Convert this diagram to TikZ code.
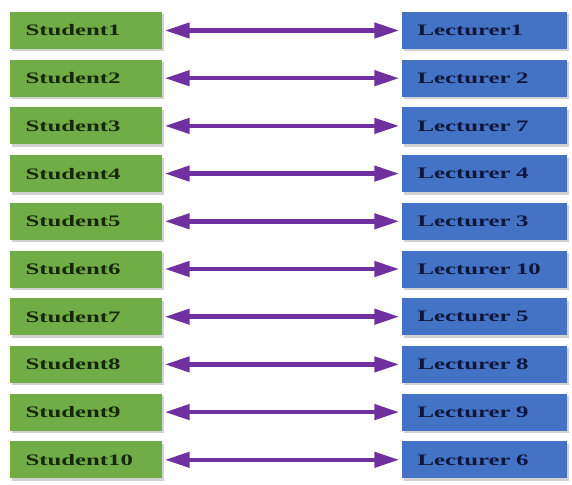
\documentclass[tikz,border=0pt]{standalone}
\usepackage{fontspec}
\setmainfont{Liberation Serif}[FakeStretch=1.55]
\usepackage{xcolor}
\usetikzlibrary{arrows.meta, positioning, calc, shadows}

\definecolor{stugreen}{RGB}{112,173,71}
\definecolor{lecblue}{RGB}{68,114,196}
\definecolor{linkpurple}{RGB}{112,48,160}
\definecolor{stutext}{RGB}{22,40,10}
\definecolor{lectext}{RGB}{14,22,60}

\begin{document}
\begin{tikzpicture}[x=1pt, y=-1pt,
    box/.style={rectangle, minimum height=37pt, inner xsep=16pt, inner ysep=0pt,
        align=left, font=\fontsize{16}{18}\selectfont\bfseries,
        drop shadow={shadow xshift=2.5pt, shadow yshift=-2.5pt, fill=gray!35, opacity=1}},
    stubox/.style={box, fill=stugreen, text=stutext, text width=120pt},
    lecbox/.style={box, fill=lecblue, text=lectext, text width=133pt},
    link/.style={draw=linkpurple, line width=4.5pt,
        {Triangle[length=25pt, width=15pt]}-{Triangle[length=25pt, width=15pt]}}]
\useasboundingbox (0,0) rectangle (572,484);

% Students and lecturers
\foreach \i/\lec [evaluate=\i as \y using 30.5+47.7*(\i-1)] in
    {1/Lecturer1, 2/Lecturer 2, 3/Lecturer 7, 4/Lecturer 4, 5/Lecturer 3,
     6/Lecturer 10, 7/Lecturer 5, 8/Lecturer 8, 9/Lecturer 9, 10/Lecturer 6}
{
    \node[stubox] (s\i) at (85.5,\y) {Student\i};
    \node[lecbox] (l\i) at (484,\y) {\lec};
    \draw[link] ($(s\i.east)+(3,0)$) -- ($(l\i.west)+(-2,0)$);
}
\end{tikzpicture}
\end{document}
